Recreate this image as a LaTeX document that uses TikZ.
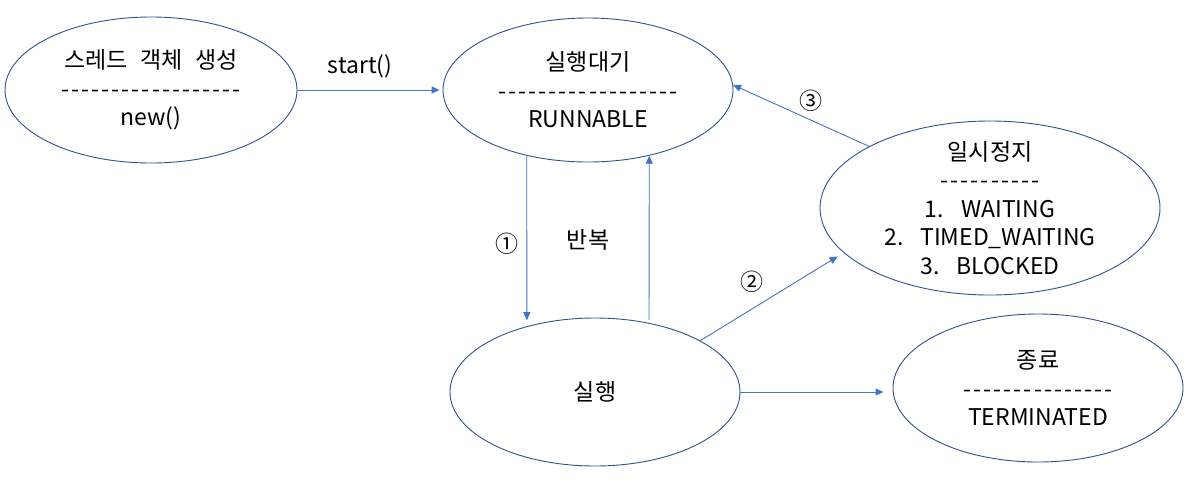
\documentclass[tikz,border=0pt]{standalone}
\usepackage{fontspec}
\setmainfont{Noto Sans CJK KR}[Ligatures=TeXOff,WordSpace=2.4]
\newfontfamily\dashfont{Noto Sans CJK KR}[Ligatures=TeXOff,LetterSpace=9]
\usetikzlibrary{arrows.meta,positioning,shapes.geometric}
\definecolor{shapeline}{HTML}{2F528F}
\definecolor{arrowblue}{HTML}{4472C4}
\newcommand{\statefont}{\fontsize{23}{28.5}\selectfont}
\tikzset{
  statenode/.style={
    ellipse, draw=shapeline, line width=0.9pt,
    fill=white, inner sep=0pt, align=center,
    font=\statefont
  },
  flowarrow/.style={-{Triangle[length=8pt,width=7pt]}, line width=0.9pt, color=arrowblue},
  labelnode/.style={font=\statefont, inner sep=0pt},
}

\begin{document}
\begin{tikzpicture}[x=1pt,y=-1pt]
  \useasboundingbox (0,0) rectangle (1203,483);
  % states
  \node[statenode, minimum width=292pt, minimum height=146pt] (create) at (151,90)
    {스레드 객체 생성\\{\dashfont ------------------}\\new()};
  \node[statenode, minimum width=290pt, minimum height=144pt] (runnable) at (588,90)
    {실행대기\\{\dashfont ------------------}\\RUNNABLE};
  \node[statenode, minimum width=340pt, minimum height=174pt, inner ysep=-14pt] (paused) at (990,208)
    {일시정지\\{\dashfont ----------}\\1.\hspace{17pt}WAITING\\2.\hspace{17pt}TIMED\_WAITING\\3.\hspace{17pt}BLOCKED};
  \node[statenode, minimum width=290pt, minimum height=148pt] (running) at (595,392) {실행};
  \node[statenode, minimum width=290pt, minimum height=148pt] (terminated) at (1038,388)
    {종료\\{\dashfont ---------------}\\TERMINATED};
  % transitions
  \draw[flowarrow, shorten >=3pt] (create.east) -- (runnable.west);
  \draw[flowarrow, shorten >=6pt] (runnable.-133.6) -- (running.136.7);
  \draw[flowarrow, shorten <=3pt] (running.52.4) -- (runnable.-47.5);
  \draw[flowarrow, shorten >=7pt] (running.26.3) -- (paused.-163);
  \draw[flowarrow] (paused.153.6) -- (runnable.2);
  \draw[flowarrow, shorten >=9pt] (running.east) -- (running.east -| terminated.west);
  % labels
  \node[labelnode] (startlbl) at (360,66) {start()};
  \node[labelnode] (onelbl) at (507,244) {①};
  \node[labelnode] (looplbl) at (588,240) {반복};
  \node[labelnode] (twolbl) at (752,282) {②};
  \node[labelnode] (threelbl) at (811,101) {③};
\end{tikzpicture}
\end{document}
